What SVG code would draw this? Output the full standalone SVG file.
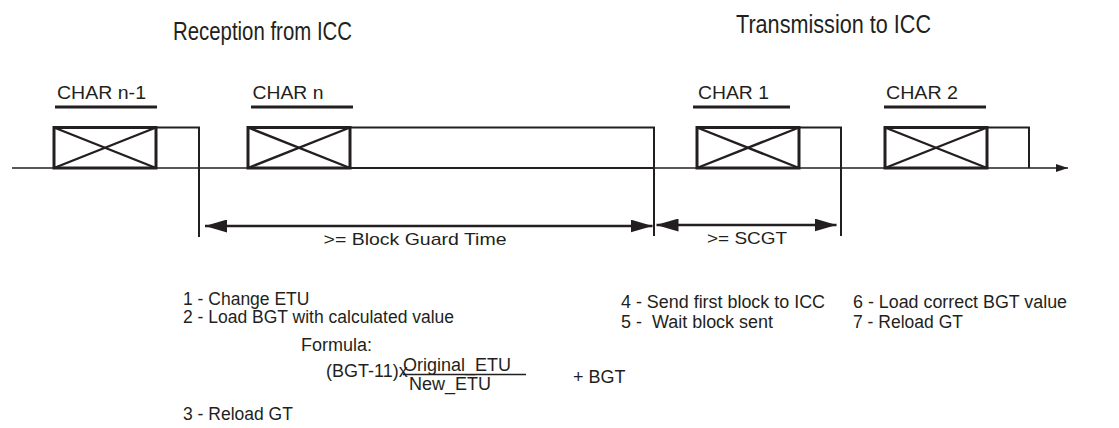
<svg xmlns="http://www.w3.org/2000/svg" width="1119" height="428" viewBox="0 0 1119 428">
<style>
text{font-family:"Liberation Sans",Arial,sans-serif;fill:#231f20}
.t{font-size:25px}
.c{font-size:18px}
.d{font-size:17px}
.b{font-size:18px}
.bl{font-size:17.5px}
.ul{stroke:#231f20;stroke-width:2.8}
.box{fill:none;stroke:#231f20;stroke-width:3}
.ext{fill:none;stroke:#231f20;stroke-width:2}
.x{stroke:#231f20;stroke-width:2.4}
.vm{stroke:#231f20;stroke-width:2}
.dim{stroke:#231f20;stroke-width:2.6;fill:none}
</style>
<defs>
<marker id="ah" markerUnits="userSpaceOnUse" markerWidth="22" markerHeight="13" refX="22" refY="6.5" orient="auto-start-reverse">
<path d="M0,0 L22,6.5 L0,13 z" fill="#231f20"/>
</marker>
<marker id="ta" markerUnits="userSpaceOnUse" markerWidth="12" markerHeight="8" refX="12" refY="4" orient="auto">
<path d="M0,0 L12,4 L0,8 z" fill="#231f20"/>
</marker>
</defs>
<rect width="1119" height="428" fill="#fff"/>

<g id="titles">
<text class="t" x="173" y="40" textLength="179" lengthAdjust="spacingAndGlyphs">Reception from ICC</text>
<text class="t" x="736" y="33" textLength="195" lengthAdjust="spacingAndGlyphs">Transmission to ICC</text>
</g>

<g id="timeline">
<line x1="12" y1="168" x2="1068" y2="168" stroke="#231f20" stroke-width="1.5" marker-end="url(#ta)"/>
</g>

<g id="char-n-1">
<text class="c" x="57" y="99" textLength="89" lengthAdjust="spacingAndGlyphs">CHAR n-1</text>
<line class="ul" x1="55" y1="107" x2="157" y2="107"/>
<polyline class="ext" points="156,127.5 199,127.5 199,168"/>
<rect class="box" x="54" y="127.5" width="102" height="40.5"/>
<line class="x" x1="54" y1="127.5" x2="156" y2="168"/>
<line class="x" x1="54" y1="168" x2="156" y2="127.5"/>
</g>

<g id="char-n">
<text class="c" x="252.5" y="99" textLength="71" lengthAdjust="spacingAndGlyphs">CHAR n</text>
<line class="ul" x1="251" y1="107" x2="353" y2="107"/>
<polyline class="ext" points="350,127.5 654,127.5 654,168 350,168"/>
<rect class="box" x="248" y="127.5" width="102" height="40.5"/>
<line class="x" x1="248" y1="127.5" x2="350" y2="168"/>
<line class="x" x1="248" y1="168" x2="350" y2="127.5"/>
</g>

<g id="char-1">
<text class="c" x="698" y="99" textLength="71" lengthAdjust="spacingAndGlyphs">CHAR 1</text>
<line class="ul" x1="693" y1="107" x2="790" y2="107"/>
<polyline class="ext" points="799,127.5 841,127.5 841,168"/>
<rect class="box" x="697" y="127.5" width="102" height="40.5"/>
<line class="x" x1="697" y1="127.5" x2="799" y2="168"/>
<line class="x" x1="697" y1="168" x2="799" y2="127.5"/>
</g>

<g id="char-2">
<text class="c" x="886" y="99" textLength="72" lengthAdjust="spacingAndGlyphs">CHAR 2</text>
<line class="ul" x1="884" y1="107" x2="986" y2="107"/>
<polyline class="ext" points="987,127.5 1029,127.5 1029,168"/>
<rect class="box" x="885" y="127.5" width="102" height="40.5"/>
<line class="x" x1="885" y1="127.5" x2="987" y2="168"/>
<line class="x" x1="885" y1="168" x2="987" y2="127.5"/>
</g>

<g id="connectors">
<line class="vm" x1="199" y1="127" x2="199" y2="237"/>
<line class="vm" x1="654" y1="127" x2="654" y2="236"/>
<line class="vm" x1="841" y1="127" x2="841" y2="236"/>
<line class="dim" x1="205" y1="226" x2="652.5" y2="226" marker-start="url(#ah)" marker-end="url(#ah)"/>
<line class="dim" x1="656.5" y1="225" x2="836.5" y2="225" marker-start="url(#ah)" marker-end="url(#ah)"/>
<text class="d" x="323.5" y="244.5" textLength="183" lengthAdjust="spacingAndGlyphs">&gt;= Block Guard Time</text>
<text class="d" x="707" y="244" textLength="80" lengthAdjust="spacingAndGlyphs">&gt;= SCGT</text>
</g>

<g id="notes-left">
<text class="bl" x="183" y="305">1 - Change ETU</text>
<text class="bl" x="183" y="323">2 - Load BGT with calculated value</text>
<text class="b" x="301" y="351">Formula:</text>
<text class="b" x="326" y="377">(BGT-11)x</text>
<text class="b" x="403" y="371">Original_ETU</text>
<line x1="403" y1="374.5" x2="526" y2="374.5" stroke="#231f20" stroke-width="1.4"/>
<text class="b" x="409" y="390">New_ETU</text>
<text class="b" x="573" y="383">+ BGT</text>
<text class="bl" x="183" y="420">3 - Reload GT</text>
</g>

<g id="notes-right">
<text class="b" x="621" y="308" textLength="204" lengthAdjust="spacingAndGlyphs">4 - Send first block to ICC</text>
<text class="b" x="621" y="328" xml:space="preserve" textLength="152" lengthAdjust="spacingAndGlyphs">5 -  Wait block sent</text>
<text class="b" x="853" y="308" textLength="214" lengthAdjust="spacingAndGlyphs">6 - Load correct BGT value</text>
<text class="b" x="853" y="328" textLength="110" lengthAdjust="spacingAndGlyphs">7 - Reload GT</text>
</g>
</svg>
